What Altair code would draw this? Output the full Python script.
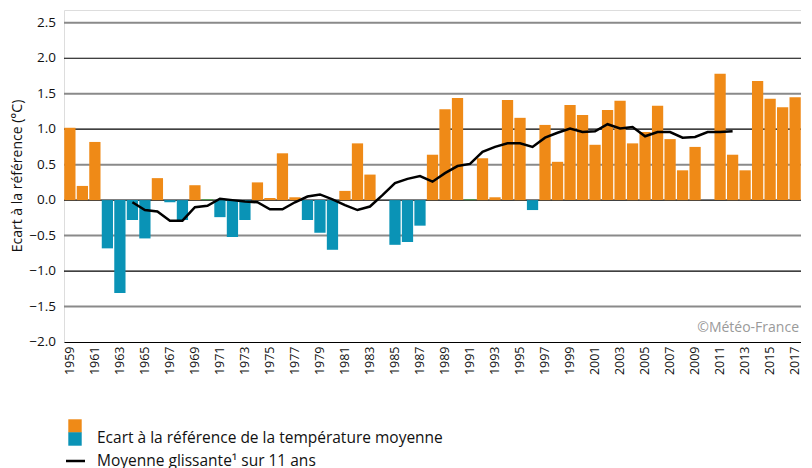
import altair as alt
import pandas as pd

years = list(range(1959, 2018))
anomaly = [1.02, 0.20, 0.82, -0.68, -1.31, -0.28, -0.54, 0.31, -0.03, -0.28,
           0.21, 0.01, -0.24, -0.52, -0.28, 0.25, 0.03, 0.66, 0.04, -0.28,
           -0.46, -0.70, 0.13, 0.80, 0.36, 0.0, -0.63, -0.59, -0.36, 0.64,
           1.28, 1.44, 0.01, 0.59, 0.04, 1.41, 1.16, -0.14, 1.06, 0.54,
           1.34, 1.20, 0.78, 1.27, 1.40, 0.80, 0.96, 1.33, 0.86, 0.42,
           0.75, 0.0, 1.78, 0.64, 0.42, 1.68, 1.43, 1.31, 1.45]

ma_years = list(range(1964, 2013))
moving_avg = [-0.03, -0.14, -0.16, -0.29, -0.29, -0.10, -0.08, 0.02, 0.00, -0.02,
              -0.03, -0.13, -0.13, -0.03, 0.05, 0.08, 0.01, -0.07, -0.14, -0.09,
              0.07, 0.24, 0.30, 0.34, 0.26, 0.38, 0.48, 0.51, 0.68, 0.75,
              0.80, 0.80, 0.75, 0.88, 0.95, 1.01, 0.96, 0.97, 1.07, 1.01,
              1.03, 0.90, 0.96, 0.96, 0.88, 0.89, 0.96, 0.96, 0.97]

y_ticks = [-2.0, -1.5, -1.0, -0.5, 0.0, 0.5, 1.0, 1.5, 2.0, 2.5]
grid_major = [-1.0, 0.0, 1.0, 2.0]
grid_minor = [-1.5, -0.5, 0.5, 1.5, 2.5]
x_label_years = [str(y) for y in range(1959, 2018, 2)]

bars_df = pd.DataFrame({"year": [str(y) for y in years], "value": anomaly})
ma_df = pd.DataFrame({"year": [str(y) for y in ma_years], "value": moving_avg})

ORANGE = "#EF8A17"
BLUE = "#0A93B6"
GREEN = "#3BAA35"
FONT = "Open Sans"
year_sort = [str(y) for y in years]

x_enc = alt.X("year:O", sort=year_sort,
              scale=alt.Scale(paddingInner=0.1, paddingOuter=0.02),
              axis=alt.Axis(values=x_label_years, labelAngle=-90, ticks=False,
                            title=None, labelFontSize=12.5, labelFont=FONT,
                            labelColor="#111", domainColor="#000", domainWidth=1.2,
                            labelPadding=4))
y_scale = alt.Scale(domain=[-2.0, 2.68], nice=False, zero=False)

grid_min = alt.Chart(pd.DataFrame({"g": grid_minor})).mark_rule(
    color="#8a8a8a", strokeWidth=2).encode(y=alt.Y("g:Q", scale=y_scale, axis=None))
grid_maj = alt.Chart(pd.DataFrame({"g": grid_major})).mark_rule(
    color="#000", strokeWidth=1.2).encode(y=alt.Y("g:Q", scale=y_scale, axis=None))

bars = alt.Chart(bars_df).transform_calculate(
    sign="abs(datum.value) < 0.02 ? 'zero' : (datum.value > 0 ? 'pos' : 'neg')"
).mark_bar().encode(
    x=x_enc,
    y=alt.Y("value:Q", scale=y_scale,
            axis=alt.Axis(values=y_ticks, labels=False, ticks=False, grid=False,
                          title=None, domainColor="#000", domainWidth=1.2)),
    y2=alt.datum(0),
    color=alt.Color("sign:N", scale=alt.Scale(domain=["pos", "neg", "zero"],
                                              range=[ORANGE, BLUE, GREEN]), legend=None),
)

line = alt.Chart(ma_df).mark_line(color="#000", strokeWidth=2.5).encode(
    x=alt.X("year:O", sort=year_sort),
    y=alt.Y("value:Q", scale=y_scale, axis=None),
)

y_labels = alt.Chart(pd.DataFrame({"v": y_ticks})).mark_text(
    align="right", baseline="middle", font=FONT, fontSize=13.5, color="#111"
).encode(x=alt.value(-8), y=alt.Y("v:Q", scale=y_scale, axis=None),
         text=alt.Text("v:Q", format=".1f"))

y_title = alt.Chart(pd.DataFrame({"t": ["Ecart à la référence (°C)"]})).mark_text(
    angle=270, align="center", baseline="middle", font=FONT, fontSize=14, color="#111"
).encode(text="t:N", x=alt.value(-46), y=alt.value(166))

copyright_txt = alt.Chart(pd.DataFrame({"t": ["©Météo-France"]})).mark_text(
    align="right", baseline="middle", font=FONT, fontSize=14, color="#9a9a9a"
).encode(text="t:N", x=alt.value(735), y=alt.value(318))

leg_sq = alt.Chart(pd.DataFrame({"c": [ORANGE, BLUE], "yy": [416, 429]})).mark_square(
    size=180, opacity=1, filled=True
).encode(x=alt.value(11), y=alt.Y("yy:Q", scale=None), color=alt.Color("c:N", scale=None))

leg_line = alt.Chart(pd.DataFrame({"a": [0]})).mark_rule(color="#000", strokeWidth=2.5).encode(
    x=alt.value(2), x2=alt.value(21), y=alt.value(451))

leg_text = alt.Chart(pd.DataFrame({
    "t": ["Ecart à la référence de la température moyenne", "Moyenne glissante¹ sur 11 ans"],
    "yy": [428, 451]})).mark_text(
    align="left", baseline="middle", font=FONT, fontSize=15.5, color="#111"
).encode(text="t:N", x=alt.value(33), y=alt.Y("yy:Q", scale=None))

chart = alt.layer(grid_min, grid_maj, bars, line, y_labels, y_title, copyright_txt,
                  leg_sq, leg_line, leg_text).properties(
    width=737, height=332,
    autosize=alt.AutoSizeParams(type="none"),
    padding={"left": 56, "top": 2, "right": 0, "bottom": 126},
).configure_view(stroke=None).configure(background="white")

chart.save("out.html", embed_options={"renderer": "svg", "actions": False})
